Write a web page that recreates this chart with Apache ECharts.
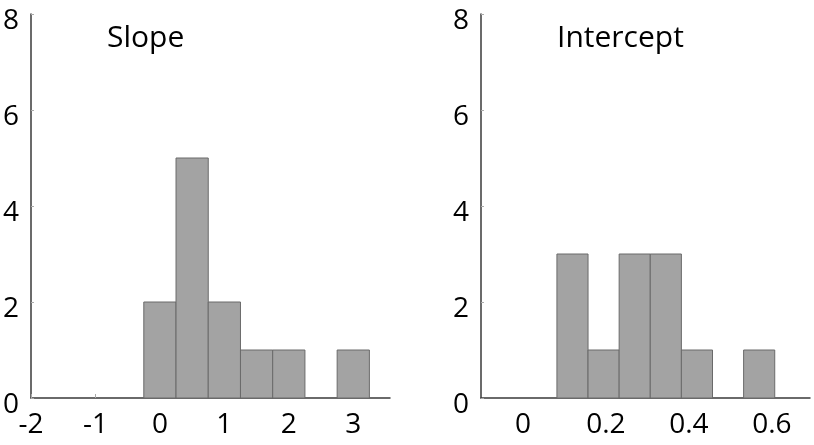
<!DOCTYPE html>
<html>
<head>
<meta charset="utf-8">
<script src="https://cdn.jsdelivr.net/npm/echarts@6/dist/echarts.min.js"></script>
<style>
  html, body { margin: 0; padding: 0; background: #fff; }
  #chart { width: 814px; height: 445px; }
</style>
</head>
<body>
<div id="chart"></div>
<script>
// histogram bin edges and counts
var slopeEdges = [-0.25, 0.25, 0.75, 1.25, 1.75, 2.25, 2.75, 3.25];
var slopeCounts = [2, 5, 2, 1, 1, 0, 1];
var interceptEdges = [0.082, 0.157, 0.232, 0.307, 0.382, 0.457, 0.532, 0.607];
var interceptCounts = [3, 1, 3, 3, 1, 0, 1];

// tick labels
var slopeTicks = [-2, -1, 0, 1, 2, 3];
var interceptTicks = [0, 0.2, 0.4, 0.6];
var countTicks = [0, 2, 4, 6, 8];

var FONT = '"Open Sans", sans-serif';
var AXIS_COLOR = '#3a3a3a';

function toBins(edges, counts) {
    var out = [];
    for (var i = 0; i < counts.length; i++) {
        out.push([edges[i], edges[i + 1], counts[i]]);
    }
    return out;
}

function renderBin(params, api) {
    var h = api.value(2);
    if (!h) return null;
    var p0 = api.coord([api.value(0), h]);
    var p1 = api.coord([api.value(1), 0]);
    return {
        type: 'rect',
        shape: { x: p0[0], y: p0[1], width: p1[0] - p0[0], height: p1[1] - p0[1] },
        style: { fill: '#a3a3a3', stroke: '#6a6a6a', lineWidth: 1 }
    };
}

function yAxisFor(idx) {
    return {
        type: 'value', gridIndex: idx, min: 0, max: 8, interval: 2,
        axisLine: { show: true, onZero: false, lineStyle: { color: AXIS_COLOR, width: 1.5 } },
        axisTick: { show: true, inside: true, length: 3, customValues: countTicks, lineStyle: { color: '#aaa' } },
        splitLine: { show: false },
        axisLabel: {
            margin: 12, fontSize: 28, color: '#000', fontFamily: FONT,
            customValues: countTicks,
            // labels sit a little below their ticks in the original
            verticalAlign: 'top', lineHeight: 14
        }
    };
}

function xAxisFor(idx, min, max, ticks, showTicks) {
    return {
        type: 'value', gridIndex: idx, min: min, max: max,
        axisLine: { show: true, onZero: false, lineStyle: { color: AXIS_COLOR, width: 1.5 } },
        axisTick: {
            show: showTicks, inside: true, length: 4,
            customValues: ticks, lineStyle: { color: '#aaa' }
        },
        splitLine: { show: false },
        axisLabel: {
            margin: 13, fontSize: 28, color: '#000', fontFamily: FONT,
            customValues: ticks
        }
    };
}

var chart = echarts.init(document.getElementById('chart'), null, { renderer: 'canvas' });

var option = {
    backgroundColor: '#fff',
    animation: false,
    title: [
        { text: 'Slope', left: 102, top: 18,
          textStyle: { fontSize: 30, fontWeight: 'normal', color: '#000', fontFamily: FONT } },
        { text: 'Intercept', left: 552, top: 18,
          textStyle: { fontSize: 30, fontWeight: 'normal', color: '#000', fontFamily: FONT } }
    ],
    grid: [
        { left: 29, top: 14, width: 361, height: 384 },
        { left: 481, top: 14, width: 329, height: 384 }
    ],
    xAxis: [
        xAxisFor(0, -2, 3.57, slopeTicks, true),
        xAxisFor(1, -0.101, 0.692, interceptTicks, false)
    ],
    yAxis: [yAxisFor(0), yAxisFor(1)],
    series: [
        { type: 'custom', xAxisIndex: 0, yAxisIndex: 0,
          renderItem: renderBin, data: toBins(slopeEdges, slopeCounts) },
        { type: 'custom', xAxisIndex: 1, yAxisIndex: 1,
          renderItem: renderBin, data: toBins(interceptEdges, interceptCounts) }
    ]
};

chart.setOption(option);
</script>
</body>
</html>
